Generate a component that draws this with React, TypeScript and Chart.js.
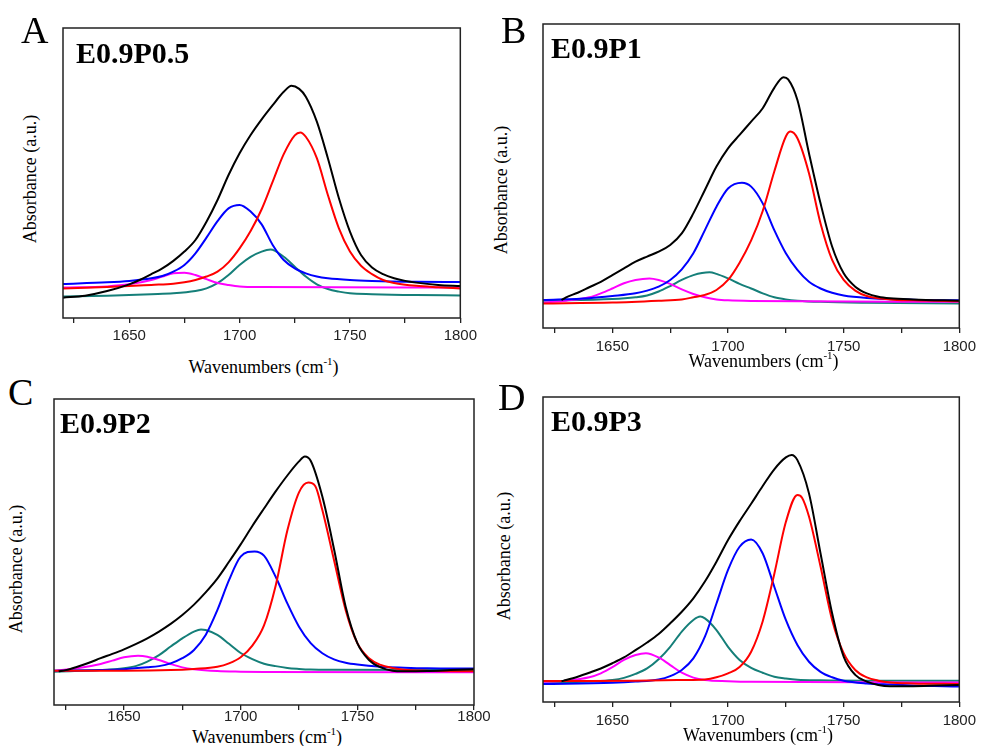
import React, { useEffect, useRef } from "react";
import { Chart, registerables } from "chart.js";

Chart.register(...registerables);

// ---------- data (wavenumber, absorbance in arbitrary units 0..100) ----------
const X_MIN = 1620;
const X_MAX = 1800;
const X_TICKS = [1625, 1650, 1675, 1700, 1725, 1750, 1775, 1800];
const X_LABELS = [1650, 1700, 1750, 1800];

const A_BLACK = [[1620,7.0],[1630,7.7],[1640,9.3],[1650,11.6],[1655,13.2],[1660,15.1],[1665,17.1],[1670,19.7],[1675,22.9],[1680,26.9],[1685,33.2],[1690,40.7],[1695,49.3],[1700,56.8],[1705,63.1],[1710,68.5],[1715,73.4],[1720,78.0],[1723.5,80.1],[1727,79.0],[1730,76.3],[1735,67.7],[1740,55.1],[1745,41.3],[1750,29.8],[1755,21.7],[1760,17.4],[1765,15.1],[1770,13.7],[1775,12.8],[1780,12.2],[1790,11.4],[1800,11.0]];
const A_RED = [[1620,10.2],[1640,10.7],[1650,11.0],[1660,11.4],[1670,11.8],[1675,12.3],[1680,13.1],[1685,14.3],[1690,16.0],[1695,19.2],[1700,24.0],[1705,30.0],[1710,37.5],[1715,47.0],[1720,56.5],[1725,63.0],[1727.5,64.0],[1730,62.5],[1735,55.1],[1740,42.4],[1745,30.9],[1750,22.9],[1755,18.0],[1760,15.1],[1765,13.1],[1770,12.1],[1780,11.1],[1790,10.6],[1800,10.2]];
const A_BLUE = [[1620,11.7],[1640,12.3],[1650,12.8],[1660,13.7],[1665,14.5],[1670,16.0],[1675,18.3],[1680,22.3],[1685,27.7],[1690,33.4],[1695,37.8],[1700,39.0],[1705,36.7],[1710,32.3],[1715,25.2],[1720,20.0],[1725,17.1],[1730,15.4],[1735,14.3],[1740,13.7],[1750,13.1],[1760,12.8],[1780,12.5],[1800,12.4]];
const A_TEAL = [[1620,7.4],[1640,7.7],[1660,8.2],[1670,8.5],[1680,9.3],[1685,10.2],[1690,12.0],[1695,14.8],[1700,18.3],[1705,21.1],[1710,22.9],[1714,23.6],[1720,21.1],[1725,17.7],[1730,14.3],[1735,11.6],[1740,10.0],[1745,9.1],[1750,8.5],[1760,8.2],[1780,7.9],[1800,7.8]];
const A_MAGENTA = [[1620,10.5],[1640,10.9],[1650,11.6],[1660,13.1],[1665,14.3],[1670,15.4],[1675,15.6],[1680,14.8],[1685,13.4],[1690,12.1],[1695,11.4],[1700,10.9],[1710,10.7],[1800,10.5]];

const B_BLACK = [[1628,9.2],[1630,10.1],[1635,11.6],[1640,13.4],[1645,15.2],[1650,17.4],[1655,19.6],[1660,21.8],[1665,23.5],[1670,25.1],[1675,27.3],[1680,31.1],[1685,37.7],[1690,45.4],[1695,53.1],[1700,59.1],[1705,63.5],[1710,67.9],[1715,72.3],[1720,79.0],[1724,82.5],[1726,81.8],[1730,75.0],[1735,57.5],[1740,41.0],[1745,26.8],[1750,18.0],[1755,13.6],[1760,11.4],[1765,10.3],[1770,9.8],[1780,9.4],[1800,9.0]];
const B_RED = [[1620,8.1],[1650,8.4],[1670,9.0],[1680,9.4],[1685,10.1],[1690,10.9],[1695,12.5],[1700,15.8],[1705,21.5],[1710,28.8],[1715,38.5],[1720,51.5],[1725,63.0],[1727,64.6],[1730,62.4],[1735,50.9],[1740,34.4],[1745,22.4],[1750,15.8],[1755,12.3],[1760,10.5],[1770,9.4],[1780,9.1],[1800,8.8]];
const B_BLUE = [[1620,9.2],[1640,9.8],[1650,10.5],[1660,11.4],[1665,12.3],[1670,13.6],[1675,15.8],[1680,19.3],[1685,24.6],[1690,32.2],[1695,39.9],[1700,45.9],[1706,47.8],[1710,46.5],[1715,41.0],[1720,32.2],[1725,24.6],[1730,19.1],[1735,15.2],[1740,13.0],[1745,11.6],[1750,10.7],[1760,9.9],[1780,9.3],[1800,9.1]];
const B_TEAL = [[1620,9.0],[1650,9.5],[1660,10.1],[1665,10.7],[1670,12.0],[1675,13.8],[1680,15.8],[1685,17.4],[1692,18.3],[1695,17.8],[1700,16.3],[1705,14.5],[1710,13.0],[1715,11.4],[1720,10.1],[1725,9.4],[1730,9.0],[1740,8.6],[1760,8.3],[1800,8.1]];
const B_MAGENTA = [[1620,8.3],[1630,9.0],[1640,10.1],[1645,11.4],[1650,13.0],[1655,14.7],[1660,15.8],[1666,16.3],[1670,15.8],[1675,14.5],[1680,12.7],[1685,11.2],[1690,10.1],[1695,9.4],[1700,9.1],[1710,8.9],[1800,8.6]];

const C_BLACK = [[1622,11.0],[1625,11.4],[1630,12.5],[1635,13.8],[1640,15.3],[1645,16.7],[1650,18.2],[1655,19.9],[1660,21.8],[1665,24.0],[1670,26.5],[1675,29.4],[1680,32.8],[1685,36.8],[1690,41.3],[1695,46.8],[1700,52.5],[1705,58.5],[1710,64.2],[1715,69.8],[1720,75.0],[1725,79.6],[1727.5,81.2],[1730,79.8],[1735,68.1],[1740,51.0],[1745,32.1],[1750,20.2],[1755,14.7],[1760,12.3],[1765,11.2],[1770,11.0],[1780,11.1],[1790,11.4],[1800,11.7]];
const C_RED = [[1620,11.2],[1650,11.2],[1670,11.4],[1680,11.8],[1690,12.5],[1695,13.6],[1700,15.6],[1705,19.4],[1710,26.0],[1715,39.0],[1720,57.0],[1725,69.5],[1729,72.7],[1732,71.5],[1735,63.7],[1740,47.4],[1745,31.0],[1750,20.2],[1755,15.3],[1760,13.1],[1765,12.1],[1770,11.5],[1780,11.2],[1800,11.0]];
const C_BLUE = [[1620,11.2],[1640,11.4],[1650,11.7],[1660,12.3],[1665,12.7],[1670,13.6],[1675,15.3],[1680,18.0],[1685,22.9],[1690,31.0],[1695,40.8],[1700,48.5],[1706,50.2],[1710,48.8],[1715,41.9],[1720,33.2],[1725,25.6],[1730,20.2],[1735,16.9],[1740,14.9],[1745,13.8],[1750,13.2],[1760,12.5],[1770,12.2],[1780,12.0],[1800,11.9]];
const C_TEAL = [[1620,10.9],[1640,11.4],[1650,12.0],[1655,12.7],[1660,14.2],[1665,16.3],[1670,19.1],[1675,21.8],[1680,24.0],[1683,24.7],[1685,24.5],[1690,22.9],[1695,20.0],[1700,17.0],[1705,15.0],[1710,13.5],[1715,12.7],[1720,12.1],[1725,11.8],[1730,11.6],[1740,11.5],[1800,11.4]];
const C_MAGENTA = [[1620,11.2],[1630,12.0],[1640,13.4],[1645,14.5],[1650,15.6],[1656,16.1],[1660,15.8],[1665,14.7],[1670,13.4],[1675,12.3],[1680,11.7],[1690,11.1],[1700,10.9],[1710,10.8],[1800,10.7]];

const D_BLACK = [[1628,6.8],[1630,7.2],[1635,8.3],[1640,9.6],[1645,11.0],[1650,12.7],[1655,14.6],[1660,17.0],[1665,19.5],[1670,22.3],[1675,25.8],[1680,29.6],[1685,34.0],[1690,39.5],[1695,46.0],[1700,53.1],[1705,59.3],[1710,65.0],[1715,70.8],[1720,76.3],[1725,80.2],[1727.5,81.0],[1730,79.3],[1735,68.4],[1740,48.7],[1745,29.1],[1750,14.9],[1755,8.9],[1760,6.7],[1765,5.6],[1770,5.2],[1780,5.2],[1790,5.4],[1800,5.6]];
const D_RED = [[1620,6.9],[1640,6.9],[1660,7.0],[1680,7.2],[1690,7.4],[1695,8.1],[1700,9.4],[1705,11.5],[1710,16.5],[1715,26.5],[1720,42.0],[1725,59.0],[1730,67.9],[1732,67.0],[1735,60.8],[1740,44.4],[1745,26.9],[1750,16.0],[1755,10.5],[1760,8.1],[1765,7.0],[1770,6.4],[1780,6.1],[1800,5.9]];
const D_BLUE = [[1620,5.9],[1650,6.3],[1660,6.7],[1670,7.4],[1675,8.5],[1680,10.5],[1685,14.3],[1690,21.4],[1695,32.3],[1700,43.3],[1705,50.9],[1710,53.3],[1715,48.7],[1720,37.8],[1725,26.9],[1730,18.7],[1735,13.2],[1740,9.9],[1745,8.1],[1750,7.0],[1760,6.1],[1770,5.7],[1780,5.4],[1800,5.1]];
const D_TEAL = [[1620,6.1],[1640,6.7],[1650,7.2],[1655,7.9],[1660,9.2],[1665,11.0],[1670,14.0],[1675,18.1],[1680,23.1],[1685,26.9],[1688,28.0],[1690,27.4],[1695,23.6],[1700,18.1],[1705,13.8],[1710,11.2],[1715,9.6],[1720,8.3],[1725,7.7],[1730,7.3],[1740,7.1],[1760,7.0],[1800,7.0]];
const D_MAGENTA = [[1620,6.6],[1630,7.0],[1640,8.1],[1645,9.4],[1650,11.4],[1655,13.8],[1660,15.4],[1664.5,16.0],[1670,14.6],[1675,12.1],[1680,9.6],[1685,8.0],[1690,7.2],[1700,6.8],[1710,6.6],[1800,6.4]];

const SAMPLE_NAMES = ["E0.9P0.5", "E0.9P1", "E0.9P2", "E0.9P3"];
const PANEL_LETTERS = ["A", "B", "C", "D"];

// ---------- styles / layout ----------
const COLORS = {
  black: "#000000",
  red: "#ff0000",
  blue: "#0000ff",
  teal: "#157f79",
  magenta: "#ff00ff",
};
const SERIF = '"Liberation Serif", "Times New Roman", Times, serif';
const SANS = '"Liberation Sans", Arial, Helvetica, sans-serif';

type Pair = number[];
type PanelDef = {
  letter: string;
  name: string;
  series: { black: Pair[]; red: Pair[]; blue: Pair[]; teal: Pair[]; magenta: Pair[] };
  plot: { l: number; t: number; r: number; b: number };
  tickPad: number;
  letterPos: [number, number];
  namePos: [number, number];
  yTitle: [number, number];
  xTitle: [number, number];
};

const PANELS: PanelDef[] = [
  {
    letter: PANEL_LETTERS[0], name: SAMPLE_NAMES[0],
    series: { black: A_BLACK, red: A_RED, blue: A_BLUE, teal: A_TEAL, magenta: A_MAGENTA },
    plot: { l: 63, t: 28, r: 461, b: 318 }, tickPad: 4,
    letterPos: [21, 43.3], namePos: [76, 63.3], yTitle: [29.8, 179], xTitle: [263.5, 373],
  },
  {
    letter: PANEL_LETTERS[1], name: SAMPLE_NAMES[1],
    series: { black: B_BLACK, red: B_RED, blue: B_BLUE, teal: B_TEAL, magenta: B_MAGENTA },
    plot: { l: 543, t: 24, r: 961, b: 328 }, tickPad: 5,
    letterPos: [501, 43.3], namePos: [551, 58.3], yTitle: [500.6, 190], xTitle: [763.5, 367],
  },
  {
    letter: PANEL_LETTERS[2], name: SAMPLE_NAMES[2],
    series: { black: C_BLACK, red: C_RED, blue: C_BLUE, teal: C_TEAL, magenta: C_MAGENTA },
    plot: { l: 54, t: 399, r: 474, b: 705 }, tickPad: -2,
    letterPos: [8, 405], namePos: [60, 432.7], yTitle: [15.6, 569], xTitle: [267, 743],
  },
  {
    letter: PANEL_LETTERS[3], name: SAMPLE_NAMES[3],
    series: { black: D_BLACK, red: D_RED, blue: D_BLUE, teal: D_TEAL, magenta: D_MAGENTA },
    plot: { l: 543, t: 397, r: 961, b: 702 }, tickPad: 5,
    letterPos: [498, 410], namePos: [551, 430.7], yTitle: [504.1, 556], xTitle: [758, 740.7],
  },
];

const PAD_X = 20;
const PAD_T = 5;
const TICK_LEN = 5;
const TICK_FONT = 15;

const framePlugin = {
  id: "frame",
  afterDraw(chart: any) {
    const { ctx, chartArea } = chart;
    ctx.save();
    ctx.strokeStyle = "#222";
    ctx.lineWidth = 1.5;
    ctx.strokeRect(chartArea.left, chartArea.top, chartArea.right - chartArea.left, chartArea.bottom - chartArea.top);
    ctx.restore();
  },
};

function baselineTop(baseline: number, size: number) {
  return baseline - 0.8375 * size;
}

function Panel({ p }: { p: PanelDef }) {
  const ref = useRef<HTMLCanvasElement | null>(null);
  const w = p.plot.r - p.plot.l + 2 * PAD_X;
  // Chart.js x-axis height = tick length + label line height + 2 * tick padding
  const h = Math.round(PAD_T + (p.plot.b - p.plot.t) + TICK_LEN + TICK_FONT * 1.2 + 2 * p.tickPad);

  useEffect(() => {
    if (!ref.current) return;
    const order: (keyof PanelDef["series"])[] = ["black", "red", "blue", "magenta", "teal"];
    const chart = new Chart(ref.current, {
      type: "line",
      data: {
        datasets: order.map((k) => ({
          label: k,
          data: p.series[k].map((d) => ({ x: d[0], y: d[1] })),
          borderColor: COLORS[k],
          borderWidth: 2,
          pointRadius: 0,
          fill: false,
          cubicInterpolationMode: "monotone",
        })),
      },
      options: {
        responsive: false,
        animation: false,
        events: [],
        layout: { padding: { left: PAD_X, right: PAD_X, top: PAD_T, bottom: 0 } },
        plugins: { legend: { display: false }, tooltip: { enabled: false } },
        scales: {
          x: {
            type: "linear",
            min: X_MIN,
            max: X_MAX,
            afterBuildTicks: (scale: any) => {
              scale.ticks = X_TICKS.map((v) => ({ value: v }));
            },
            ticks: {
              autoSkip: false,
              maxRotation: 0,
              padding: p.tickPad,
              color: "#222",
              font: { family: SANS, size: TICK_FONT },
              callback: (v: any) => (X_LABELS.includes(Number(v)) ? String(v) : ""),
            },
            grid: { drawOnChartArea: false, drawTicks: true, tickLength: TICK_LEN, color: "#222", lineWidth: 1.3 },
            border: { display: false },
          },
          y: { type: "linear", min: 0, max: 100, display: false },
        },
      } as any,
      plugins: [framePlugin],
    });
    return () => chart.destroy();
  }, [p]);

  const textBase: React.CSSProperties = { position: "absolute", fontFamily: SERIF, color: "#000", whiteSpace: "nowrap" };

  return (
    <>
      <canvas
        ref={ref}
        width={w}
        height={h}
        style={{ position: "absolute", left: p.plot.l - PAD_X, top: p.plot.t - PAD_T, width: w, height: h }}
      />
      <div style={{ ...textBase, left: p.letterPos[0], top: baselineTop(p.letterPos[1], 38), fontSize: 38, lineHeight: "38px" }}>
        {p.letter}
      </div>
      <div style={{ ...textBase, left: p.namePos[0], top: baselineTop(p.namePos[1], 30), fontSize: 30, lineHeight: "30px", fontWeight: "bold" }}>
        {p.name}
      </div>
      <div
        style={{
          ...textBase,
          left: p.yTitle[0],
          top: p.yTitle[1],
          fontSize: 18,
          lineHeight: "18px",
          transform: "translate(-50%, -50%) rotate(-90deg)",
        }}
      >
        Absorbance (a.u.)
      </div>
      <div
        style={{
          ...textBase,
          left: p.xTitle[0],
          top: baselineTop(p.xTitle[1], 18),
          fontSize: 18,
          lineHeight: "18px",
          transform: "translateX(-50%)",
        }}
      >
        Wavenumbers (cm<span style={{ fontSize: 11, position: "relative", top: -8 }}>-1</span>)
      </div>
    </>
  );
}

export default function App() {
  return (
    <div style={{ position: "absolute", left: 0, top: 0, width: 982, height: 746, overflow: "hidden", background: "#fff" }}>
      {PANELS.map((p) => (
        <Panel key={p.letter} p={p} />
      ))}
    </div>
  );
}
